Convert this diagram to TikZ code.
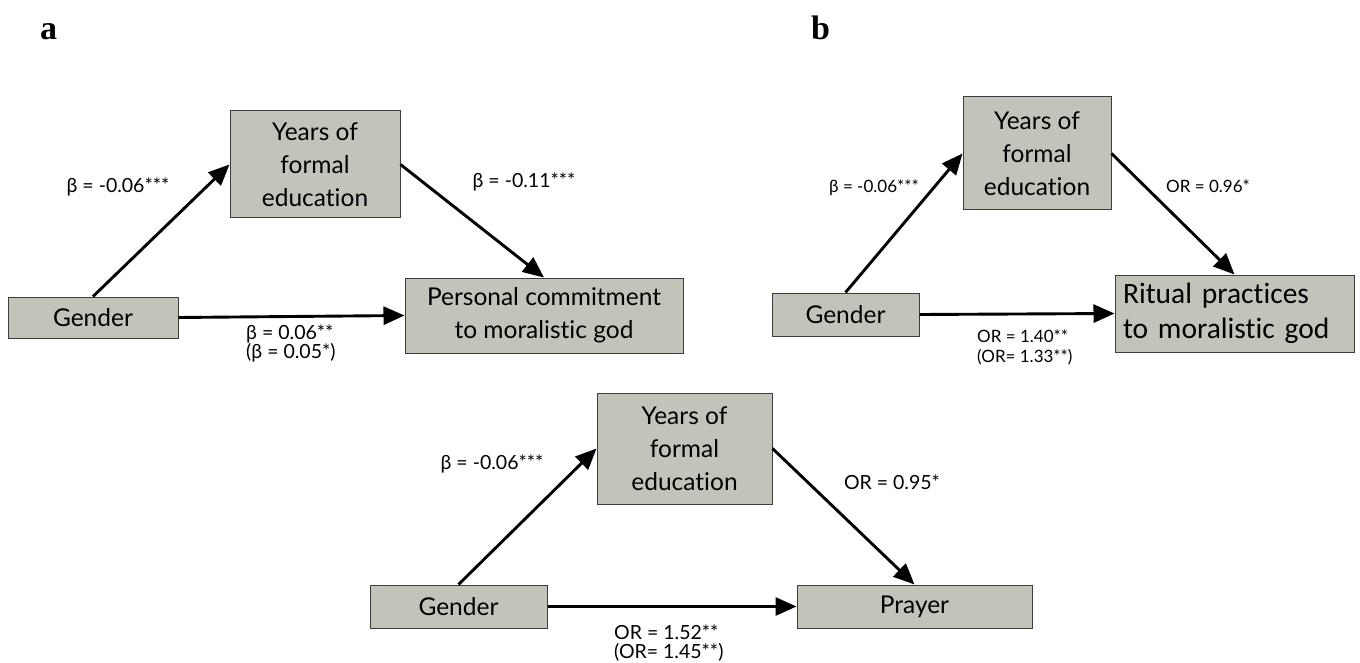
\documentclass[tikz,border=0pt]{standalone}
\usepackage{fontspec}
\setmainfont{Lato}[Ligatures=NoCommon]
\newfontfamily\calibfont{Carlito}[Ligatures=NoCommon]
\newfontfamily\panelfont{Liberation Serif}
\usetikzlibrary{arrows.meta}
\definecolor{BoxGrey}{HTML}{C2C4BA}
\definecolor{BoxEdge}{HTML}{3C3C3C}

\begin{document}
\begin{tikzpicture}[x=1pt, y=-1pt, >={Triangle[length=21pt, width=18pt]},
  box/.style={draw=BoxEdge, fill=BoxGrey, line width=1pt, inner sep=0pt,
              align=center, font=\fontsize{24.5}{33}\selectfont},
  link/.style={->, line width=2.9pt},
  coef/.style={inner sep=0pt, align=left, font=\fontsize{19.5}{19}\selectfont},
  coefsmall/.style={coef, font=\fontsize{17}{20}\selectfont},
  panel/.style={inner sep=0pt, anchor=base west,
                font=\panelfont\bfseries\fontsize{34}{34}\selectfont}]
  \useasboundingbox (0,0) rectangle (1360,663);

  \node[panel] (tagA) at (40,40) {a};
  \node[panel] (tagB) at (811,40) {b};

  % panel a: commitment
  \node[box, minimum width=170pt, minimum height=41pt] (genderA) at (93,317.5) {Gender};
  \node[box, minimum width=170pt, minimum height=107pt] (eduA) at (315,164.5) {Years of\\formal\\education};
  \node[box, minimum width=278pt, minimum height=75pt] (commitA) at (544,315.5) {Personal commitment\\to moralistic god};

  \draw[link] (genderA.north) -- (eduA.west);
  \draw[link] (eduA.east) -- (commitA.north);
  \draw[link] (genderA.east) -- (commitA.west);

  \node[coef] (cA1) at (118,187) {β = -0.06***};
  \node[coef] (cA2) at (524,182) {β = -0.11***};
  \node[coef, anchor=west] (cA3) at (246,343) {β = 0.06**\\(β = 0.05*)};

  % panel b: ritual practices
  \node[box, minimum width=147pt, minimum height=43pt] (genderB) at (845.5,314.5) {Gender};
  \node[box, minimum width=148pt, minimum height=113pt] (eduB) at (1037,153.5) {Years of\\formal\\education};
  \node[box, text width=223pt, inner xsep=8pt, minimum height=77pt, align=left,
        font=\calibfont\fontsize{29.5}{35}\selectfont] (ritualB) at (1234.5,313.5)
        {Ritual practices\\to moralistic god};

  \draw[link] (genderB.north) -- (eduB.west);
  \draw[link] (eduB.east) -- (ritualB.north);
  \draw[link] (genderB.east) -- (ritualB.west);

  \node[coefsmall] (cB1) at (874,188) {β = -0.06***};
  \node[coefsmall] (cB2) at (1208,186) {OR = 0.96*};
  \node[coefsmall, anchor=west] (cB3) at (977,347) {OR = 1.40**\\(OR= 1.33**)};

  % panel c: prayer
  \node[box, minimum width=177pt, minimum height=43pt] (genderC) at (458.5,606.5) {Gender};
  \node[box, minimum width=175pt, minimum height=111pt] (eduC) at (684.5,448.5) {Years of\\formal\\education};
  \node[box, minimum width=235pt, minimum height=43pt] (prayerC) at (914.5,606.5) {Prayer};

  \draw[link] (genderC.north) -- (eduC.west);
  \draw[link] (eduC.east) -- (prayerC.north);
  \draw[link] (genderC.east) -- (prayerC.west);

  \node[coef] (cC1) at (492,464) {β = -0.06***};
  \node[coef] (cC2) at (892,482) {OR = 0.95*};
  \node[coef, anchor=west] (cC3) at (614,643) {OR = 1.52**\\(OR= 1.45**)};
\end{tikzpicture}
\end{document}
